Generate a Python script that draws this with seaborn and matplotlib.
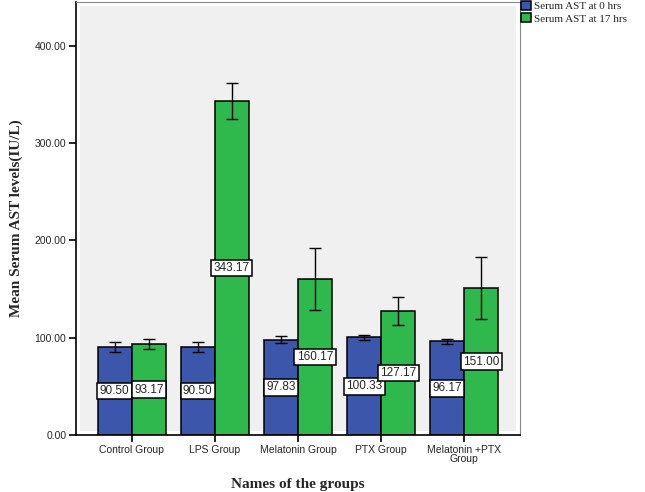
import matplotlib
matplotlib.use("Agg")
import matplotlib.pyplot as plt
import seaborn as sns
import pandas as pd
from matplotlib.patches import Rectangle

groups = ["Control Group", "LPS Group", "Melatonin Group", "PTX Group", "Melatonin +PTX\nGroup"]
series = ["Serum AST at 0 hrs", "Serum AST at 17 hrs"]
ast_0h = [90.50, 90.50, 97.83, 100.33, 96.17]
ast_17h = [93.17, 343.17, 160.17, 127.17, 151.00]
err_0h = [5.2, 5.2, 3.5, 2.5, 3.0]
err_17h = [5.0, 18.5, 32.0, 14.5, 32.0]
yticks = [0, 100, 200, 300, 400]

df = pd.DataFrame({
    "group": groups * 2,
    "series": [series[0]] * 5 + [series[1]] * 5,
    "value": ast_0h + ast_17h,
    "err": err_0h + err_17h,
})

sns.set_style("white")
fig = plt.figure(figsize=(6.45, 4.92), dpi=100)
ax = fig.add_axes([76/645, 1-435/492, (520-76)/645, (435-2)/492])

ax.add_patch(Rectangle((0.009, 0.009), 0.982, 0.982, transform=ax.transAxes,
                       facecolor="#f0f0f0", edgecolor="none", zorder=0))

sns.barplot(data=df, x="group", y="value", hue="series", order=groups, hue_order=series,
            palette=["#3c56ab", "#2fb84b"], saturation=1, errorbar=None, width=0.82,
            edgecolor="black", linewidth=1.1, ax=ax, zorder=2)

for cont, errs, vals in zip(ax.containers, [err_0h, err_17h], [ast_0h, ast_17h]):
    for bar, e, v in zip(cont, errs, vals):
        cx = bar.get_x() + bar.get_width() / 2
        h = bar.get_height()
        ax.errorbar(cx, h, yerr=e, fmt="none", ecolor="black", elinewidth=1.0,
                    capsize=4, capthick=1.0, zorder=4)
        ax.text(cx, h / 2, f"{v:.2f}", ha="center", va="center", fontsize=8.5,
                family="Liberation Sans", zorder=5,
                bbox=dict(boxstyle="square,pad=0.2", facecolor="white",
                          edgecolor="black", linewidth=1.1))

ax.set_xlim(-0.67, 4.67)
ax.set_ylim(0, 445)
ax.set_yticks(yticks)
ax.set_yticklabels([f"{t:.2f}" for t in yticks], family="Liberation Sans", fontsize=7.5)
ax.set_xticks(range(len(groups)))
ax.set_xticklabels(groups, family="Liberation Sans", fontsize=7.5, linespacing=0.9)
ax.tick_params(axis="both", which="both", direction="out", length=5, width=1.2,
               color="black", left=True, bottom=True, pad=2)

for s in ["left", "bottom"]:
    ax.spines[s].set_color("black")
    ax.spines[s].set_linewidth(1.2)
for s in ["top", "right"]:
    ax.spines[s].set_color("#888888")
    ax.spines[s].set_linewidth(0.8)

ax.set_xlabel("Names of the groups", family="Liberation Serif", fontweight="bold",
              fontsize=11, labelpad=10)
ax.set_ylabel("Mean Serum AST levels(IU/L)", family="Liberation Serif", fontweight="bold",
              fontsize=11, labelpad=8)

leg = ax.legend(loc="upper left", bbox_to_anchor=(1.0, 1.005), frameon=False,
                prop={"family": "Liberation Serif", "size": 8},
                handlelength=0.9, handleheight=0.9, handletextpad=0.3,
                labelspacing=0.15, borderaxespad=0.0, borderpad=0.1)

fig.savefig("out.png", dpi=100)
